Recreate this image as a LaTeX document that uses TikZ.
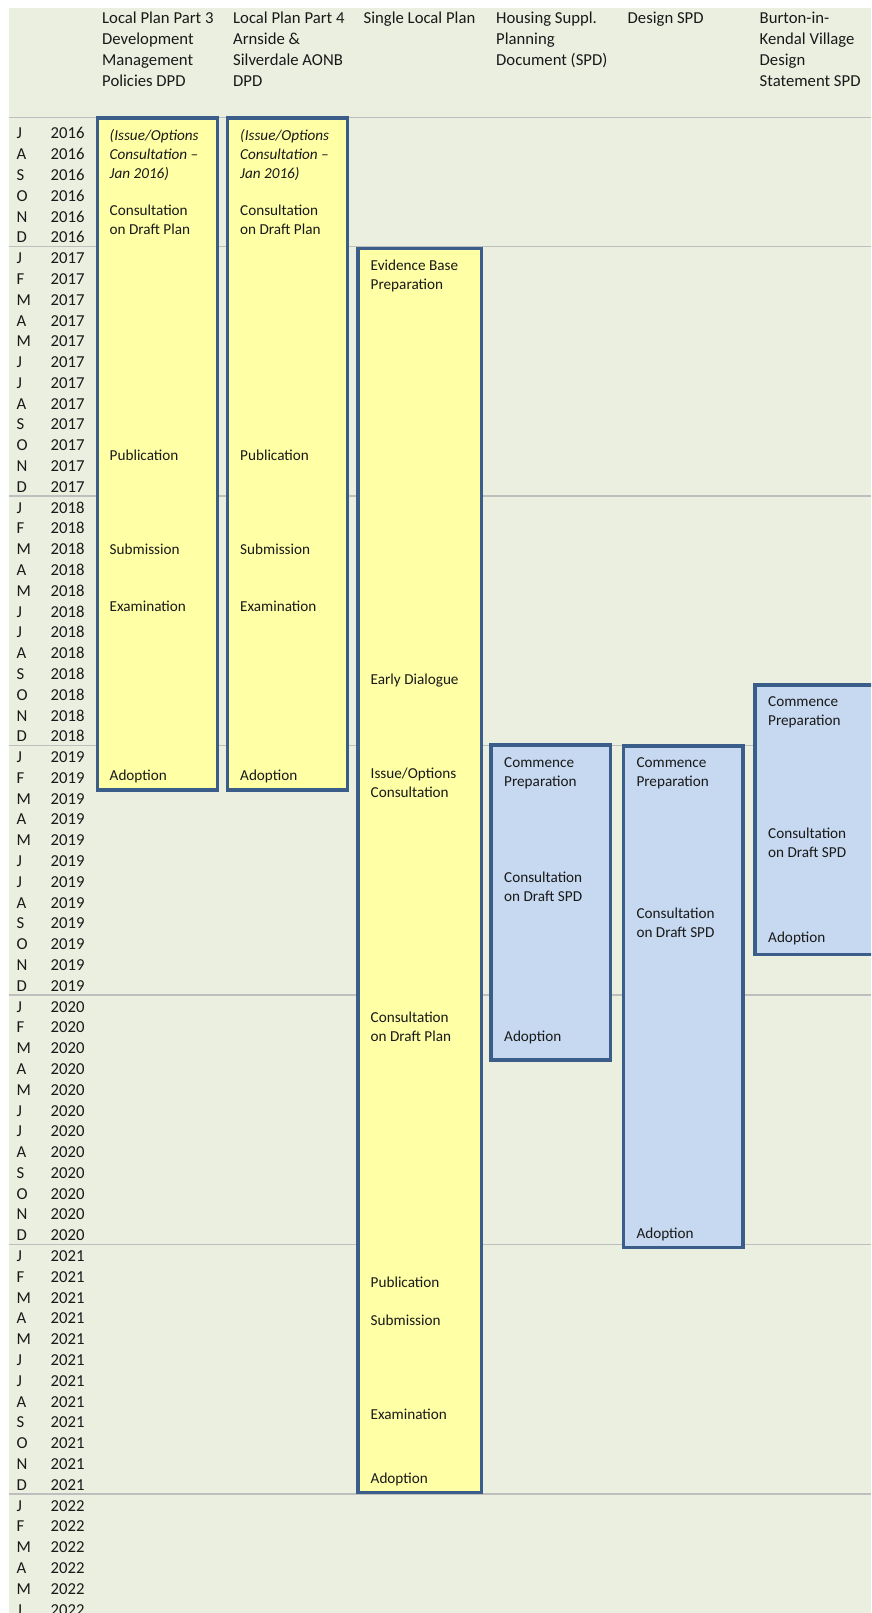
\documentclass[tikz,border=0pt]{standalone}
\usepackage{fontspec}
\setmainfont{Carlito}
\definecolor{paper}{RGB}{235,239,224}
\definecolor{draftyellow}{RGB}{255,255,166}
\definecolor{spdblue}{RGB}{198,217,240}
\definecolor{boxedge}{RGB}{59,93,138}
\definecolor{yearrule}{RGB}{190,190,190}
\definecolor{ink}{RGB}{25,25,25}

\begin{document}
\begin{tikzpicture}[x=1pt, y=-1pt, inner sep=0pt,
    every node/.style={text=ink},
    head/.style={anchor=base west, align=left, font=\fontsize{16.7}{20.9}\selectfont},
    cell/.style={anchor=base west, font=\fontsize{16.7}{20.8}\selectfont},
    txt/.style={anchor=base west, align=left, font=\fontsize{15.2}{19}\selectfont},
    note/.style={txt, font=\fontsize{15.2}{19}\selectfont\itshape},
    plan/.style={draw=boxedge, line width=3.3pt, fill=draftyellow},
    spd/.style={plan, fill=spdblue},
    rowline/.style={draw=yearrule, line width=1.3pt}]
  \clip (0,0) rectangle (871,1613);
  \fill[white] (0,0) rectangle (871,1613);
  \fill[paper] (9,8) rectangle (871,1613);

  % year rules
  \foreach \ly in {117.3,246.4,495.9,745.4,994.9,1244.4,1493.9}
    \draw[rowline] (9,\ly) -- (871,\ly);

  % month / year column
  \foreach \i in {0,...,71}{
    \pgfmathsetmacro\rowy{138.9+20.79*\i}
    \pgfmathparse{{"J","F","M","A","M","J","J","A","S","O","N","D"}[mod(\i+6,12)]}
    \let\mon\pgfmathresult
    \pgfmathtruncatemacro\yr{2016+floor((\i+6)/12)}
    \node[cell] (mon\i) at (16.5,\rowy) {\mon};
    \node[cell] (yr\i) at (50.5,\rowy) {\yr};
  }

  % column heads (base = last line)
  \node[head] (lp3) at (102,86.5) {Local Plan Part 3\\Development\\Management\\Policies DPD};
  \node[head] (lp4) at (233,86.5) {Local Plan Part 4\\Arnside \&\\Silverdale AONB\\DPD};
  \node[head] (slp) at (363.5,23.8) {Single Local Plan};
  \node[head] (hsg) at (496,65.6) {Housing Suppl.\\Planning\\Document (SPD)};
  \node[head] (dsg) at (627.5,23.8) {Design SPD};
  \node[head] (bvd) at (759.5,86.5) {Burton-in-\\Kendal Village\\Design\\Statement SPD};

  % programme bars
  \draw[plan] (97.2,118) rectangle (217.3,790);
  \draw[plan] (227.4,118) rectangle (347.3,790);
  \draw[plan] (358,248.4) rectangle (481.6,1492.3);
  \draw[spd] (491,745) rectangle (610.3,1060);
  \draw[spd] (623.7,746) rectangle (743,1247.3);
  \draw[spd] (755,685) rectangle (885,954.3);

  % Local Plan Part 3 and Part 4
  \foreach \x/\c in {109.5/lp3,240/lp4}{
    \node[note] (\c-io) at (\x,178.6) {(Issue/Options\\Consultation –\\Jan 2016)};
    \node[txt] (\c-cd) at (\x,234.9) {Consultation\\on Draft Plan};
    \node[txt] (\c-pb) at (\x,460.4) {Publication};
    \node[txt] (\c-sb) at (\x,554.9) {Submission};
    \node[txt] (\c-ex) at (\x,611.6) {Examination};
    \node[txt] (\c-ad) at (\x,780.9) {Adoption};
  }

  % Single Local Plan
  \node[txt] (slp-eb) at (370.5,289.2) {Evidence Base\\Preparation};
  \node[txt] (slp-ed) at (370.5,684.2) {Early Dialogue};
  \node[txt] (slp-io) at (370.5,797.2) {Issue/Options\\Consultation};
  \node[txt] (slp-cd) at (370.5,1041.9) {Consultation\\on Draft Plan};
  \node[txt] (slp-pb) at (370.5,1287.2) {Publication};
  \node[txt] (slp-sb) at (370.5,1325.2) {Submission};
  \node[txt] (slp-ex) at (370.5,1419.2) {Examination};
  \node[txt] (slp-ad) at (370.5,1483.9) {Adoption};

  % SPDs
  \node[txt] (hsg-cp) at (504,786.2) {Commence\\Preparation};
  \node[txt] (hsg-cd) at (504,901.6) {Consultation\\on Draft SPD};
  \node[txt] (hsg-ad) at (504,1041.4) {Adoption};
  \node[txt] (dsg-cp) at (636.3,786.9) {Commence\\Preparation};
  \node[txt] (dsg-cd) at (636.3,937.9) {Consultation\\on Draft SPD};
  \node[txt] (dsg-ad) at (636.3,1238.9) {Adoption};
  \node[txt] (bvd-cp) at (768,725.6) {Commence\\Preparation};
  \node[txt] (bvd-cd) at (768,857.6) {Consultation\\on Draft SPD};
  \node[txt] (bvd-ad) at (768,942.2) {Adoption};
\end{tikzpicture}
\end{document}
